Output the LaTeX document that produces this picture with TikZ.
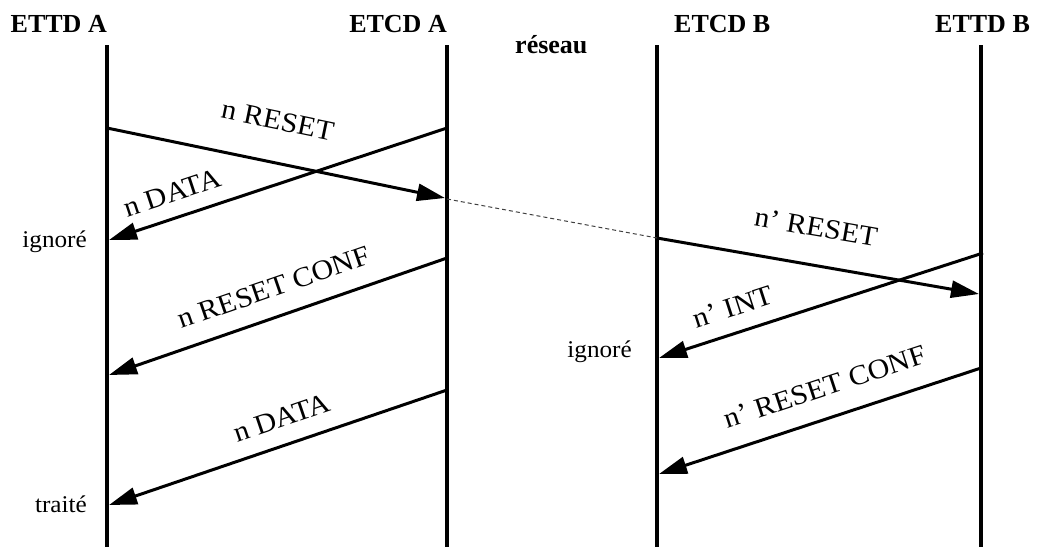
\documentclass[tikz,border=0pt]{standalone}
\usepackage{fontspec}
\setmainfont{Liberation Serif}
\newfontfamily\hdrfont{Liberation Serif}
\newfontfamily\lblfont[FakeStretch=1.07]{Liberation Serif}
\newfontfamily\notefont[FakeStretch=1.05]{Liberation Serif}
\usetikzlibrary{arrows.meta}

\begin{document}
\begin{tikzpicture}[x=1pt,y=-1pt,
  entity/.style={font=\hdrfont\bfseries\fontsize{26}{30}\selectfont, inner sep=0pt},
  lifeline/.style={line width=4pt},
  msg/.style={line width=3pt, -{Triangle[length=28pt,width=17pt]}},
  relay/.style={line width=1pt, black!75, dash pattern=on 4pt off 3pt},
  msglabel/.style={font=\lblfont\fontsize{28}{32}\selectfont, inner sep=0pt, sloped},
  note/.style={font=\notefont\fontsize{24}{28}\selectfont, inner sep=0pt, anchor=base east},
]
\useasboundingbox (0,0) rectangle (1041,547);

% column headers
\node[entity, anchor=base east] (hA)  at (107,32) {ETTD A};
\node[entity, anchor=base east] (hCA) at (447,32) {ETCD A};
\node[entity, anchor=base west] (hCB) at (674,32) {ETCD B};
\node[entity, anchor=base west] (hB)  at (935,32) {ETTD B};
\node[entity, anchor=base west] (net) at (515,53) {réseau};

% lifelines
\coordinate (At)  at (107,45);  \coordinate (Ab)  at (107,547);
\coordinate (CAt) at (447,45);  \coordinate (CAb) at (447,547);
\coordinate (CBt) at (657,45);  \coordinate (CBb) at (657,547);
\coordinate (Bt)  at (981,45);  \coordinate (Bb)  at (981,547);
\draw[lifeline] (At) -- (Ab);
\draw[lifeline] (CAt) -- (CAb);
\draw[lifeline] (CBt) -- (CBb);
\draw[lifeline] (Bt) -- (Bb);

% message end points
\coordinate (m1s) at (107,128); \coordinate (m1e) at (445,198);
\coordinate (m2s) at (447,128); \coordinate (m2e) at (109,240);
\coordinate (r1s) at (447,199); \coordinate (r1e) at (657,238);
\coordinate (m4s) at (657,238); \coordinate (m4e) at (979,294);
\coordinate (m5s) at (983,253); \coordinate (m5e) at (659,358);
\coordinate (m6s) at (447,258); \coordinate (m6e) at (109,375);
\coordinate (m7s) at (447,390); \coordinate (m7e) at (109,505);
\coordinate (m8s) at (981,368); \coordinate (m8e) at (659,474);

% messages
\draw[msg] (m1s) -- node[msglabel, pos=0.48, above=31pt] (l1) {n RESET} (m1e);
\draw[msg] (m2s) -- node[msglabel, pos=0.79, above=14pt] (l2) {n DATA} (m2e);
\draw[relay] (r1s) -- (r1e);
\draw[msg] (m4s) -- node[msglabel, pos=0.474, above=27pt] (l4) {n’ RESET} (m4e);
\draw[msg] (m5s) -- node[msglabel, pos=0.747, above=15pt] (l5) {n’ INT} (m5e);
\draw[msg] (m6s) -- node[msglabel, pos=0.484, above=18pt] (l6) {n RESET CONF} (m6e);
\draw[msg] (m7s) -- node[msglabel, pos=0.464, above=16pt] (l7) {n DATA} (m7e);
\draw[msg] (m8s) -- node[msglabel, pos=0.455, above=20pt] (l8) {n’ RESET CONF} (m8e);

% outcome notes
\node[note] (n1) at (87,247)  {ignoré};
\node[note] (n2) at (87,512)  {traité};
\node[note] (n3) at (632,357) {ignoré};
\end{tikzpicture}
\end{document}
